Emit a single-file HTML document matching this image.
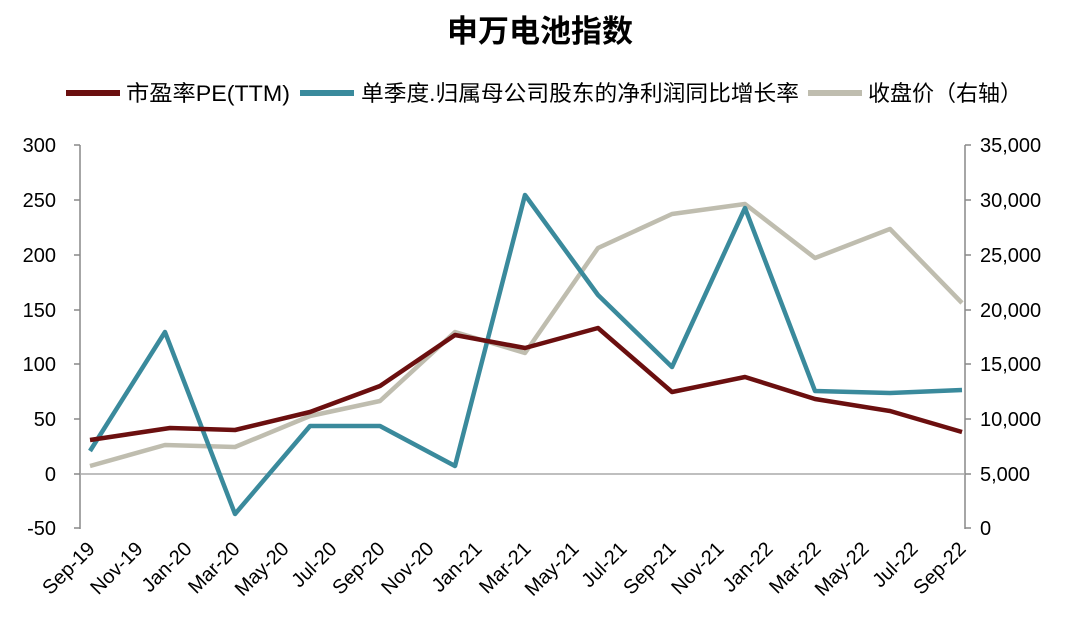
<!DOCTYPE html>
<html><head><meta charset="utf-8"><style>
html,body{margin:0;padding:0;background:#fff;}
svg text{font-family:"Liberation Sans","Noto Sans CJK SC",sans-serif;}
</style></head><body>
<svg width="1080" height="631" viewBox="0 0 1080 631" xmlns="http://www.w3.org/2000/svg">
<rect width="1080" height="631" fill="#fff"/>
<text x="540" y="42" text-anchor="middle" font-size="31" font-weight="bold" fill="#000">申万电池指数</text>
<!-- legend -->
<line x1="66" y1="93" x2="120" y2="93" stroke="#6b0f0f" stroke-width="6"/>
<text x="126" y="101" font-size="22" fill="#000" textLength="164" lengthAdjust="spacingAndGlyphs">市盈率PE(TTM)</text>
<line x1="300" y1="93" x2="354" y2="93" stroke="#3a8a9c" stroke-width="6"/>
<text x="361" y="101" font-size="22" fill="#000" textLength="438" lengthAdjust="spacingAndGlyphs">单季度.归属母公司股东的净利润同比增长率</text>
<line x1="808" y1="93" x2="862" y2="93" stroke="#bfbdaf" stroke-width="6"/>
<text x="868" y="101" font-size="22" fill="#000" textLength="154" lengthAdjust="spacingAndGlyphs">收盘价（右轴）</text>
<!-- axes -->
<line x1="80" y1="145" x2="80" y2="529" stroke="#888" stroke-width="1.5"/>
<line x1="965" y1="145" x2="965" y2="529" stroke="#888" stroke-width="1.5"/>
<line x1="80" y1="474" x2="965" y2="474" stroke="#aaa" stroke-width="1.5"/>
<g stroke="#888" stroke-width="1.5">
<line x1="74" y1="145" x2="80" y2="145"/><line x1="74" y1="200" x2="80" y2="200"/><line x1="74" y1="255" x2="80" y2="255"/><line x1="74" y1="310" x2="80" y2="310"/><line x1="74" y1="364" x2="80" y2="364"/><line x1="74" y1="419" x2="80" y2="419"/><line x1="74" y1="474" x2="80" y2="474"/><line x1="74" y1="528" x2="80" y2="528"/>
<line x1="965" y1="145" x2="971" y2="145"/><line x1="965" y1="200" x2="971" y2="200"/><line x1="965" y1="255" x2="971" y2="255"/><line x1="965" y1="310" x2="971" y2="310"/><line x1="965" y1="364" x2="971" y2="364"/><line x1="965" y1="419" x2="971" y2="419"/><line x1="965" y1="474" x2="971" y2="474"/><line x1="965" y1="528" x2="971" y2="528"/>
</g>
<g font-size="20" fill="#000" text-anchor="end">
<text x="56" y="152">300</text><text x="56" y="207">250</text><text x="56" y="262">200</text><text x="56" y="317">150</text><text x="56" y="371">100</text><text x="56" y="426">50</text><text x="56" y="481">0</text><text x="56" y="535">-50</text>
</g>
<g font-size="20" fill="#000" text-anchor="start">
<text x="980" y="152">35,000</text><text x="980" y="207">30,000</text><text x="980" y="262">25,000</text><text x="980" y="317">20,000</text><text x="980" y="371">15,000</text><text x="980" y="426">10,000</text><text x="980" y="481">5,000</text><text x="980" y="535">0</text>
</g>
<g font-size="20" fill="#000" text-anchor="end">
<text transform="translate(96,550) rotate(-45)">Sep-19</text>
<text transform="translate(144,550) rotate(-45)">Nov-19</text>
<text transform="translate(193,550) rotate(-45)">Jan-20</text>
<text transform="translate(241,550) rotate(-45)">Mar-20</text>
<text transform="translate(290,550) rotate(-45)">May-20</text>
<text transform="translate(338,550) rotate(-45)">Jul-20</text>
<text transform="translate(386,550) rotate(-45)">Sep-20</text>
<text transform="translate(435,550) rotate(-45)">Nov-20</text>
<text transform="translate(483,550) rotate(-45)">Jan-21</text>
<text transform="translate(532,550) rotate(-45)">Mar-21</text>
<text transform="translate(580,550) rotate(-45)">May-21</text>
<text transform="translate(628,550) rotate(-45)">Jul-21</text>
<text transform="translate(677,550) rotate(-45)">Sep-21</text>
<text transform="translate(725,550) rotate(-45)">Nov-21</text>
<text transform="translate(774,550) rotate(-45)">Jan-22</text>
<text transform="translate(822,550) rotate(-45)">Mar-22</text>
<text transform="translate(870,550) rotate(-45)">May-22</text>
<text transform="translate(919,550) rotate(-45)">Jul-22</text>
<text transform="translate(967,550) rotate(-45)">Sep-22</text>
</g>
<g fill="none" stroke-width="4.5" stroke-linejoin="round">
<polyline stroke="#bfbdaf" points="90,466 165,445 235,447 310,416 380,401 455,332 525,353 598,248 672,214 745,204 815,258 890,229 962,303"/>
<polyline stroke="#3a8a9c" points="90,451 165,332 235,514 310,426 380,426 455,466 525,195 598,295 672,367 745,208 815,391 890,393 962,390"/>
<polyline stroke="#6b0f0f" points="90,440 170,428 235,430 310,412 380,386 455,335 525,348 598,328 672,392 745,377 815,399 890,411 962,432"/>
</g>
</svg>
</body></html>
